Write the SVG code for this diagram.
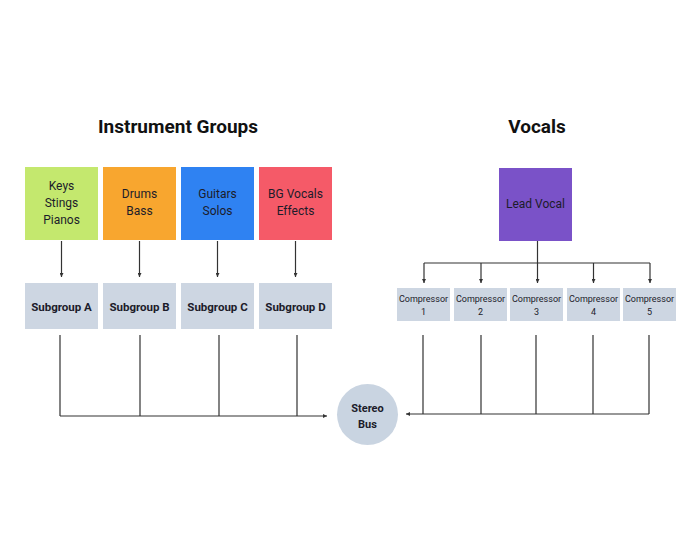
<svg xmlns="http://www.w3.org/2000/svg" width="700" height="560" viewBox="0 0 700 560">
<defs>
<marker id="ah" viewBox="0 0 6 6" refX="6" refY="3" markerWidth="4" markerHeight="4" orient="auto" markerUnits="userSpaceOnUse"><path d="M0,0 L6,3 L0,6 z" fill="#333"/></marker>
<style>
.t{font-family:Roboto,"Liberation Sans",sans-serif;fill:#1c1c2a;text-anchor:middle}
.title{font-size:19px;font-weight:700;fill:#111}
.c{font-size:12px}
.b{font-size:11.5px;font-weight:700}
.s{font-size:9px}
.ln{stroke:#333;stroke-width:1.2;fill:none}
.sg{fill:#cdd6e2}
</style>
</defs>
<rect width="700" height="560" fill="#fff"/>
<text class="t title" x="178" y="133">Instrument Groups</text>
<text class="t title" x="537" y="133">Vocals</text>
<g id="keys"><rect x="25" y="167" width="73" height="73" fill="#c4e86e"/><text class="t c" x="61.5" y="190">Keys</text><text class="t c" x="61.5" y="207">Stings</text><text class="t c" x="61.5" y="224">Pianos</text></g>
<g id="drums"><rect x="103" y="167" width="73" height="73" fill="#f8a62f"/><text class="t c" x="139.5" y="198">Drums</text><text class="t c" x="139.5" y="215">Bass</text></g>
<g id="guitars"><rect x="181" y="167" width="73" height="73" fill="#2f82f2"/><text class="t c" x="217.5" y="198">Guitars</text><text class="t c" x="217.5" y="215">Solos</text></g>
<g id="bgvocals"><rect x="259" y="167" width="73" height="73" fill="#f55a68"/><text class="t c" x="295.5" y="198">BG Vocals</text><text class="t c" x="295.5" y="215">Effects</text></g>
<g id="leadvocal"><rect x="499" y="168" width="73" height="73" fill="#7a52c8"/><text class="t c" x="535.5" y="208">Lead Vocal</text></g>
<g id="subA"><rect class="sg" x="25" y="283" width="73" height="46"/><text class="t b" x="61.5" y="311">Subgroup A</text></g>
<g id="subB"><rect class="sg" x="103" y="283" width="73" height="46"/><text class="t b" x="139.5" y="311">Subgroup B</text></g>
<g id="subC"><rect class="sg" x="181" y="283" width="73" height="46"/><text class="t b" x="217.5" y="311">Subgroup C</text></g>
<g id="subD"><rect class="sg" x="259" y="283" width="73" height="46"/><text class="t b" x="295.5" y="311">Subgroup D</text></g>
<g id="comp1"><rect class="sg" x="397" y="288" width="53" height="33"/><text class="t s" x="423.5" y="302">Compressor</text><text class="t s" x="423.5" y="315">1</text></g>
<g id="comp2"><rect class="sg" x="454" y="288" width="53" height="33"/><text class="t s" x="480.5" y="302">Compressor</text><text class="t s" x="480.5" y="315">2</text></g>
<g id="comp3"><rect class="sg" x="510" y="288" width="53" height="33"/><text class="t s" x="536.5" y="302">Compressor</text><text class="t s" x="536.5" y="315">3</text></g>
<g id="comp4"><rect class="sg" x="567" y="288" width="53" height="33"/><text class="t s" x="593.5" y="302">Compressor</text><text class="t s" x="593.5" y="315">4</text></g>
<g id="comp5"><rect class="sg" x="623" y="288" width="53" height="33"/><text class="t s" x="649.5" y="302">Compressor</text><text class="t s" x="649.5" y="315">5</text></g>
<g id="stereobus"><circle cx="367.5" cy="414.5" r="30.5" fill="#c9d4e1"/><text class="t b" style="font-size:11px" x="367.5" y="412">Stereo</text><text class="t b" style="font-size:11px" x="367.5" y="428">Bus</text></g>
<g id="connectors">
<path class="ln" d="M61.5,241 V277" marker-end="url(#ah)"/>
<path class="ln" d="M139.5,241 V277" marker-end="url(#ah)"/>
<path class="ln" d="M217.5,241 V277" marker-end="url(#ah)"/>
<path class="ln" d="M295.5,241 V277" marker-end="url(#ah)"/>
<path class="ln" d="M537.5,241 V263"/>
<path class="ln" d="M424,263 H650"/>
<path class="ln" d="M424,263 V283" marker-end="url(#ah)"/>
<path class="ln" d="M481,263 V283" marker-end="url(#ah)"/>
<path class="ln" d="M537.5,263 V283" marker-end="url(#ah)"/>
<path class="ln" d="M593.5,263 V283" marker-end="url(#ah)"/>
<path class="ln" d="M650,263 V283" marker-end="url(#ah)"/>
<path class="ln" d="M60,335 V416 M140,335 V416 M219,335 V416 M297,335 V416"/>
<path class="ln" d="M60,416 H327" marker-end="url(#ah)"/>
<path class="ln" d="M423,335 V414 M481,335 V414 M536,335 V414 M593,335 V414 M649,335 V414"/>
<path class="ln" d="M649,414 H406" marker-end="url(#ah)"/>
</g>
</svg>
